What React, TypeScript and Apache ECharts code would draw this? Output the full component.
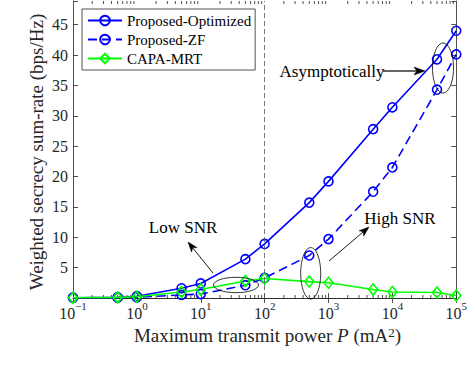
import React, { useEffect, useRef } from "react";
import * as echarts from "echarts";

const powers = [0.1, 0.5, 1, 5, 10, 50, 100, 500, 1000, 5000, 10000, 50000, 100000];
const proposedOptimized = [0.05, 0.1, 0.3, 1.6, 2.4, 6.4, 8.9, 15.7, 19.2, 27.8, 31.4, 39.3, 44.0];
const proposedZF = [0.05, 0.05, 0.1, 0.5, 0.65, 2.1, 3.3, 7.0, 9.7, 17.5, 21.5, 34.3, 40.1];
const capaMRT = [0.05, 0.1, 0.2, 1.0, 1.4, 2.8, 3.2, 2.7, 2.5, 1.4, 1.0, 0.9, 0.4];
const seriesNames = ["Proposed-Optimized", "Proposed-ZF", "CAPA-MRT"];
const yTicks = [5, 10, 15, 20, 25, 30, 35, 40, 45];
const thresholdPower = 100;

const FONT = "'Liberation Serif', 'Times New Roman', serif";
const AX = "#262626";

function arrow(x1: number, y1: number, x2: number, y2: number, len: number, w: number, color: string, lw: number) {
  const dx = x2 - x1, dy = y2 - y1;
  const L = Math.hypot(dx, dy);
  const ux = dx / L, uy = dy / L;
  const px = -uy, py = ux;
  const bx = x2 - ux * len, by = y2 - uy * len;
  const nx = x2 - ux * len * 0.75, ny = y2 - uy * len * 0.75;
  return [
    { type: "line", shape: { x1, y1, x2: nx, y2: ny }, style: { stroke: color, lineWidth: lw } },
    {
      type: "polygon",
      shape: {
        points: [
          [x2, y2],
          [bx + (px * w) / 2, by + (py * w) / 2],
          [nx, ny],
          [bx - (px * w) / 2, by - (py * w) / 2],
        ],
      },
      style: { fill: "#000", stroke: "#000", lineWidth: 0.5 },
    },
  ];
}

export default function App() {
  const ref = useRef<HTMLDivElement>(null);
  useEffect(() => {
    document.body.style.margin = "0";
    const chart = echarts.init(ref.current!, null, { renderer: "svg" });
    const mk = (vals: number[]) => powers.map((p, i) => [p, vals[i]]);
    const xAxisBase = {
      type: "log",
      logBase: 10,
      min: 0.1,
      max: 100000,
      splitLine: { show: false },
      axisLine: { show: true, lineStyle: { color: AX, width: 0.8 } },
      axisTick: { show: true, inside: true, length: 5, lineStyle: { color: AX, width: 0.8 } },
    };
    const yAxisBase = {
      type: "value",
      min: 0,
      max: 48.9,
      interval: 5,
      splitLine: { show: false },
      axisLine: { show: true, lineStyle: { color: AX, width: 0.8 } },
      axisTick: { show: true, inside: true, length: 5, lineStyle: { color: AX, width: 0.8 } },
    };
    const option: any = {
      animation: false,
      backgroundColor: "#fff",
      grid: { left: 73, top: 1, width: 387, height: 297, containLabel: false },
      legend: {
        orient: "vertical",
        left: 82,
        top: 9,
        padding: [4, 4, 4, 5],
        itemGap: 4,
        itemWidth: 34,
        itemHeight: 12,
        borderColor: AX,
        borderWidth: 0.8,
        borderRadius: 0,
        backgroundColor: "#fff",
        data: seriesNames,
        textStyle: { fontFamily: FONT, fontSize: 15, color: "#000", lineHeight: 14 },
      },
      xAxis: [
        {
          ...xAxisBase,
          position: "bottom",
          axisLabel: {
            show: true,
            margin: 2,
            color: AX,
            formatter: (v: number) => {
              const e = Math.round(Math.log10(v));
              return `{b|10}{s|${e < 0 ? "\u2212" + -e : e}}`;
            },
            rich: {
              b: { fontFamily: FONT, fontSize: 16, color: AX, padding: [5, 0, 0, 0], verticalAlign: "bottom" },
              s: { fontFamily: FONT, fontSize: 11, color: AX, verticalAlign: "top" },
            },
          },
        },
        { ...xAxisBase, position: "top", axisLabel: { show: false } },
      ],
      yAxis: [
        {
          ...yAxisBase,
          position: "left",
          axisLabel: {
            show: true,
            margin: 5,
            color: AX,
            fontFamily: FONT,
            fontSize: 16,
            formatter: (v: number) => (yTicks.indexOf(v) >= 0 ? String(v) : ""),
          },
        },
        { ...yAxisBase, position: "right", axisLabel: { show: false } },
      ],
      series: [
        {
          name: seriesNames[0],
          type: "line",
          data: mk(proposedOptimized),
          symbol: "circle",
          symbolSize: 9,
          lineStyle: { color: "#0000ff", width: 1.6 },
          itemStyle: { color: "rgba(0,0,0,0)", borderColor: "#0000ff", borderWidth: 1.6 },
          markLine: {
            silent: true,
            symbol: ["none", "none"],
            label: { show: false },
            lineStyle: { color: "#555", type: [5, 3], width: 0.8 },
            data: [{ xAxis: thresholdPower }],
          },
        },
        {
          name: seriesNames[1],
          type: "line",
          data: mk(proposedZF),
          symbol: "circle",
          symbolSize: 9,
          lineStyle: { color: "#0000ff", width: 1.6, type: [9, 5] },
          itemStyle: { color: "rgba(0,0,0,0)", borderColor: "#0000ff", borderWidth: 1.6 },
        },
        {
          name: seriesNames[2],
          type: "line",
          data: mk(capaMRT),
          symbol: "diamond",
          symbolSize: [9, 11],
          lineStyle: { color: "#00ff00", width: 1.6 },
          itemStyle: { color: "rgba(0,0,0,0)", borderColor: "#00ff00", borderWidth: 1.6 },
        },
      ],
    };
    chart.setOption(option);

    const graphics: any[] = [];
    const yBot = chart.convertToPixel({ yAxisIndex: 0 }, 0) as number;
    const yTop = chart.convertToPixel({ yAxisIndex: 0 }, 48.9) as number;
    for (let k = -1; k < 5; k++) {
      for (let m = 2; m <= 9; m++) {
        const v = m * Math.pow(10, k);
        const x = chart.convertToPixel({ xAxisIndex: 0 }, v) as number;
        graphics.push({ type: "line", silent: true, shape: { x1: x, y1: yBot, x2: x, y2: yBot - 3 }, style: { stroke: AX, lineWidth: 0.8 } });
        graphics.push({ type: "line", silent: true, shape: { x1: x, y1: yTop, x2: x, y2: yTop + 3 }, style: { stroke: AX, lineWidth: 0.8 } });
      }
    }
    const ell = (cx: number, cy: number, rx: number, ry: number) => ({
      type: "ellipse",
      shape: { cx, cy, rx, ry },
      style: { fill: "none", stroke: "#000", lineWidth: 0.8 },
      z: 10,
    });
    const txt = (x: number, y: number, t: string) => ({
      type: "text",
      x,
      y,
      z: 10,
      style: { text: t, fontFamily: FONT, fontSize: 17, fill: "#000", align: "center", verticalAlign: "middle" },
    });
    graphics.push(ell(443, 68, 10.5, 25));
    graphics.push(ell(236, 285, 22.5, 7.7));
    graphics.push(ell(310.7, 273.3, 10, 25.7));
    graphics.push(txt(332, 71, "Asymptotically"));
    graphics.push(txt(183, 227, "Low SNR"));
    graphics.push(txt(400, 218, "High SNR"));
    graphics.push(...arrow(383, 71, 425, 71, 11, 8, "#333", 1.5));
    graphics.push(...arrow(213, 273, 188, 242, 10, 7, "#000", 0.9));
    graphics.push(...arrow(329, 261, 369, 227, 10, 7, "#000", 0.9));
    graphics.push({
      type: "text",
      x: 267.5,
      y: 335,
      style: {
        text: "Maximum transmit power {i|P} (mA{s|2})",
        fontFamily: FONT,
        fontSize: 19,
        fill: AX,
        align: "center",
        verticalAlign: "middle",
        rich: {
          i: { fontFamily: FONT, fontSize: 19, fontStyle: "italic", fill: AX, verticalAlign: "bottom" },
          s: { fontFamily: FONT, fontSize: 13, fill: AX, verticalAlign: "top" },
        },
      },
    });
    graphics.push({
      type: "text",
      x: 36,
      y: 152,
      rotation: Math.PI / 2,
      style: {
        text: "Weighted secrecy sum-rate (bps/Hz)",
        fontFamily: FONT,
        fontSize: 19,
        fill: AX,
        align: "center",
        verticalAlign: "middle",
      },
    });
    chart.setOption({ graphic: { elements: graphics } });
    return () => chart.dispose();
  }, []);
  return <div ref={ref} style={{ width: 470, height: 368 }} />;
}
